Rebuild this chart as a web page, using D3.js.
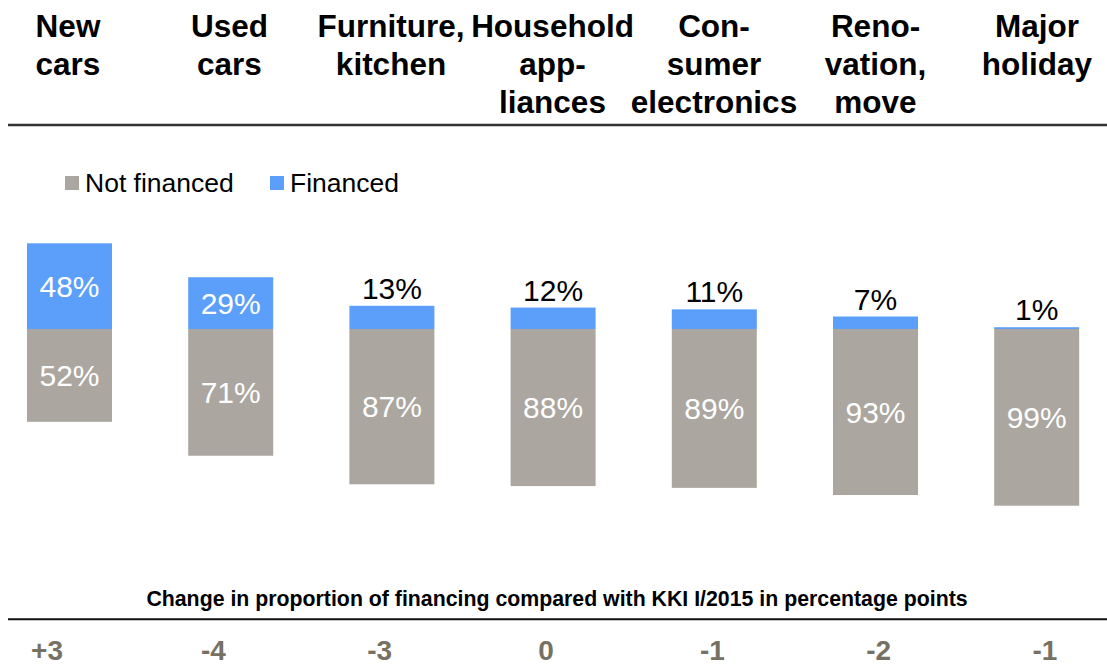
<!DOCTYPE html>
<html>
<head>
<meta charset="utf-8">
<script src="https://cdn.jsdelivr.net/npm/d3@7"></script>
<style>
  html, body { margin: 0; padding: 0; background: #fff; }
  svg { display: block; font-family: "Liberation Sans", Arial, sans-serif; }
</style>
</head>
<body>
<svg id="chart" width="1107" height="667"></svg>
<script>
// Purchase categories (header lines as printed)
const categories = ["New cars", "Used cars", "Furniture, kitchen", "Household appliances",
                    "Consumer electronics", "Renovation, move", "Major holiday"];
const categoryLines = [
  ["New", "cars"],
  ["Used", "cars"],
  ["Furniture,", "kitchen"],
  ["Household", "app-", "liances"],
  ["Con-", "sumer", "electronics"],
  ["Reno-", "vation,", "move"],
  ["Major", "holiday"]
];
// Share of purchases, in percent
const financed    = [48, 29, 13, 12, 11, 7, 1];
const notFinanced = [52, 71, 87, 88, 89, 93, 99];
// Change in proportion of financing vs. KKI I/2015, percentage points
const changeLabels = ["+3", "-4", "-3", "0", "-1", "-2", "-1"];

const seriesNames = ["Not financed", "Financed"];
const colors = { "Not financed": "#aba69f", "Financed": "#5b9ffb" };

const svg = d3.select("#chart");
const W = 1107;

// Bars hang from a shared split line: financed share stacks upward, the rest downward
const x = d3.scalePoint().domain(categories).range([69.5, 1036.7]);
const barW = 85;
const y = d3.scaleLinear().domain([-100, 100]).range([507.5, 150.5]);
// Header and footer text columns
const xHead = d3.scalePoint().domain(categories).range([68, 1037]);
const xFoot = d3.scalePoint().domain(categories).range([47, 1045]);

// Header row
const head = svg.append("g").attr("class", "headers");
categories.forEach((c, i) => {
  const t = head.append("text")
    .attr("x", xHead(c)).attr("y", 37)
    .attr("text-anchor", "middle")
    .attr("font-size", 31.5).attr("font-weight", "bold").attr("fill", "#000");
  categoryLines[i].forEach((ln, j) => {
    t.append("tspan").attr("x", xHead(c)).attr("dy", j === 0 ? 0 : 38).text(ln);
  });
});
svg.append("line").attr("x1", 8).attr("x2", W).attr("y1", 125).attr("y2", 125)
  .attr("stroke", "#333").attr("stroke-width", 2.5);

// Legend
const legend = svg.append("g").attr("class", "legend");
const legendX = [65, 270];
seriesNames.forEach((s, i) => {
  legend.append("rect").attr("x", legendX[i]).attr("y", 176).attr("width", 14).attr("height", 14)
    .attr("fill", colors[s]);
  legend.append("text").attr("x", legendX[i] + 20).attr("y", 192)
    .attr("font-size", 26.5).attr("fill", "#000").text(s);
});

const rows = categories.map((c, i) => ({ c, fin: financed[i], not: notFinanced[i] }));
const bars = svg.append("g").attr("class", "bars");

// Financed segment (above split)
bars.selectAll("rect.fin").data(rows).join("rect").attr("class", "fin")
  .attr("x", d => x(d.c) - barW / 2).attr("width", barW)
  .attr("y", d => y(d.fin)).attr("height", d => y(0) - y(d.fin))
  .attr("fill", colors["Financed"]);

// Not financed segment (below split)
bars.selectAll("rect.not").data(rows).join("rect").attr("class", "not")
  .attr("x", d => x(d.c) - barW / 2).attr("width", barW)
  .attr("y", y(0)).attr("height", d => y(-d.not) - y(0))
  .attr("fill", colors["Not financed"]);

// Value labels
bars.selectAll("text.finlab").data(rows).join("text").attr("class", "finlab")
  .attr("x", d => x(d.c))
  .attr("y", d => d.fin >= 20 ? (y(d.fin) + y(0)) / 2 : y(d.fin) - 7)
  .attr("dy", d => d.fin >= 20 ? "0.36em" : 0)
  .attr("text-anchor", "middle").attr("font-size", 30)
  .attr("fill", d => d.fin >= 20 ? "#fff" : "#000")
  .text(d => d.fin + "%");

bars.selectAll("text.notlab").data(rows).join("text").attr("class", "notlab")
  .attr("x", d => x(d.c))
  .attr("y", d => (y(0) + y(-d.not)) / 2)
  .attr("dy", "0.36em")
  .attr("text-anchor", "middle").attr("font-size", 30).attr("fill", "#fff")
  .text(d => d.not + "%");

// Footer: change in financing share
svg.append("text").attr("x", 557).attr("y", 606)
  .attr("text-anchor", "middle").attr("font-size", 21.3).attr("font-weight", "bold").attr("fill", "#000")
  .text("Change in proportion of financing compared with KKI I/2015 in percentage points");
svg.append("line").attr("x1", 8).attr("x2", W).attr("y1", 619.3).attr("y2", 619.3)
  .attr("stroke", "#111").attr("stroke-width", 2);

svg.append("g").selectAll("text").data(categories).join("text")
  .attr("x", c => xFoot(c)).attr("y", 660)
  .attr("text-anchor", "middle").attr("font-size", 28).attr("font-weight", "bold")
  .attr("fill", "#767163")
  .text((c, i) => changeLabels[i]);
</script>
</body>
</html>
